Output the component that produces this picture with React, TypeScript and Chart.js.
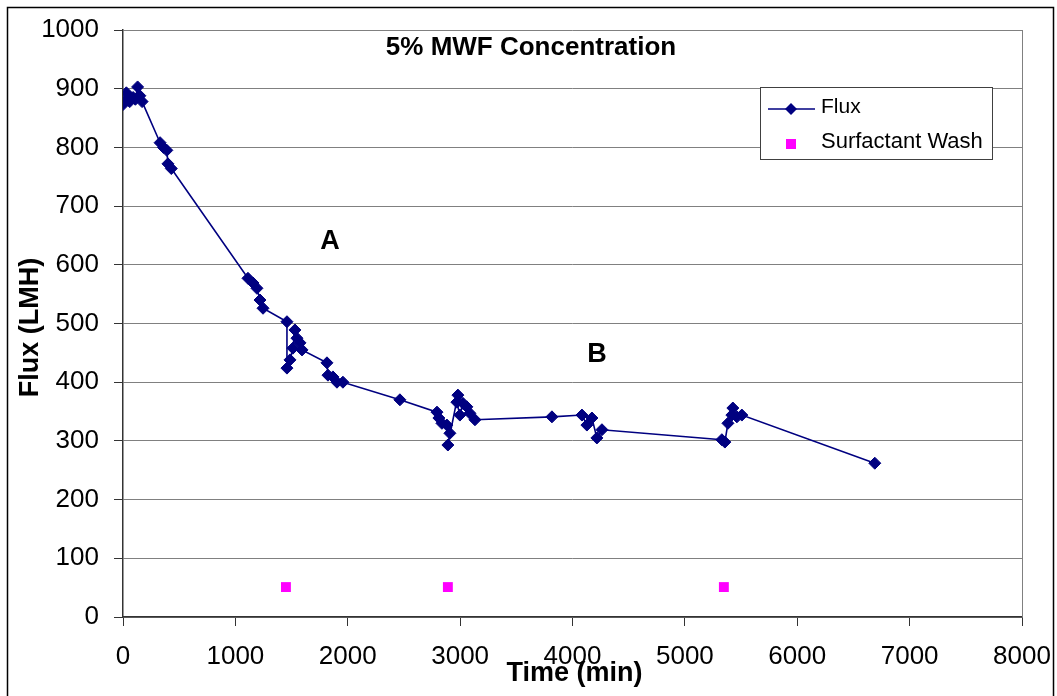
import React, { useEffect, useRef } from "react";
import { Chart, registerables } from "chart.js";

Chart.register(...registerables);

const chartTitle = "5% MWF Concentration";
const xAxisTitle = "Time (min)";
const yAxisTitle = "Flux (LMH)";
const fluxLabel = "Flux";
const washLabel = "Surfactant Wash";
const annotations = ["A", "B"];

const xMin = 0;
const xMax = 8000;
const xStep = 1000;
const yMin = 0;
const yMax = 1000;
const yStep = 100;

const fluxTime = [
  0, 20, 30, 60, 90, 110, 130, 150, 170,
  330, 360, 390, 400, 430,
  1112, 1157, 1192, 1219, 1246,
  1459, 1459, 1486, 1512, 1530, 1548, 1575, 1593,
  1815, 1824, 1868, 1904, 1957,
  2464,
  2794, 2811, 2838, 2882, 2909, 2891, 2980, 2971, 2998, 3025, 3060, 3087, 3132,
  3817, 4084, 4128, 4173, 4217, 4262,
  5329, 5356, 5383, 5418, 5427, 5463, 5507,
  6690,
];
const fluxValue = [
  873, 880, 893, 878, 885, 882, 903, 888, 878,
  808, 800, 795, 772, 764,
  577, 569, 560, 540, 526,
  503, 424, 438, 458, 489, 475, 467, 455,
  433, 412, 409, 400, 400,
  370,
  349, 339, 330, 327, 313, 293, 378, 366, 344, 364, 358, 347, 336,
  341, 344, 327, 339, 305, 319,
  302, 298, 330, 344, 356, 341, 344,
  262,
];

const washTime = [1450, 2891, 5347];
const washValue = [51, 51, 51];

const FONT = "'Liberation Sans', Arial, Helvetica, sans-serif";
const NAVY = "#000080";
const MAGENTA = "#ff00ff";

const decorPlugin = {
  id: "decor",
  beforeDraw(chart: any) {
    const { ctx, width, height } = chart;
    ctx.save();
    ctx.fillStyle = "#ffffff";
    ctx.fillRect(0, 0, width, height);
    ctx.strokeStyle = "#000000";
    ctx.lineWidth = 1.5;
    ctx.strokeRect(7.5, 7.5, width - 11, height + 10);
    ctx.restore();
  },
  beforeDatasetsDraw(chart: any) {
    const { ctx, chartArea } = chart;
    ctx.save();
    ctx.strokeStyle = "#808080";
    ctx.lineWidth = 1;
    ctx.beginPath();
    ctx.moveTo(chartArea.right + 0.5, chartArea.top);
    ctx.lineTo(chartArea.right + 0.5, chartArea.bottom);
    ctx.stroke();
    ctx.restore();
  },
  afterDraw(chart: any) {
    const { ctx } = chart;
    const xs = chart.scales.x;
    const ys = chart.scales.y;
    ctx.save();
    ctx.fillStyle = "#000000";
    // title
    ctx.font = `bold 26px ${FONT}`;
    ctx.textAlign = "center";
    ctx.textBaseline = "alphabetic";
    ctx.fillText(chartTitle, 531, 55);
    // annotations
    ctx.font = `bold 27px ${FONT}`;
    ctx.textBaseline = "middle";
    ctx.fillText(annotations[0], 330, 242);
    ctx.fillText(annotations[1], 597, 355);
    // x axis title
    ctx.font = `bold 27px ${FONT}`;
    ctx.textBaseline = "alphabetic";
    ctx.fillText(xAxisTitle, (xs.left + xs.right) / 2 + 2, 681);
    // y axis title
    ctx.save();
    ctx.translate(38, (ys.top + ys.bottom) / 2 + 4);
    ctx.rotate(-Math.PI / 2);
    ctx.textAlign = "center";
    ctx.textBaseline = "alphabetic";
    ctx.fillText(yAxisTitle, 0, 0);
    ctx.restore();
    // legend
    const lx = 760, ly = 87, lw = 232, lh = 72;
    ctx.fillStyle = "#ffffff";
    ctx.fillRect(lx, ly, lw, lh);
    ctx.strokeStyle = "#404040";
    ctx.lineWidth = 1;
    ctx.strokeRect(lx + 0.5, ly + 0.5, lw, lh);
    ctx.strokeStyle = NAVY;
    ctx.lineWidth = 1.5;
    ctx.beginPath();
    ctx.moveTo(768, 109);
    ctx.lineTo(815, 109);
    ctx.stroke();
    ctx.fillStyle = NAVY;
    ctx.beginPath();
    ctx.moveTo(791 - 6, 109);
    ctx.lineTo(791, 109 - 6);
    ctx.lineTo(791 + 6, 109);
    ctx.lineTo(791, 109 + 6);
    ctx.closePath();
    ctx.fill();
    ctx.fillStyle = MAGENTA;
    ctx.fillRect(786, 139, 10, 10);
    ctx.fillStyle = "#000000";
    ctx.font = `21px ${FONT}`;
    ctx.textAlign = "left";
    ctx.textBaseline = "alphabetic";
    ctx.fillText(fluxLabel, 821, 113);
    ctx.font = `22px ${FONT}`;
    ctx.fillText(washLabel, 821, 148);
    ctx.restore();
  },
};

export default function App() {
  const canvasRef = useRef<HTMLCanvasElement | null>(null);

  useEffect(() => {
    const canvas = canvasRef.current;
    if (!canvas) return;
    const fluxData = fluxTime.map((t, i) => ({ x: t, y: fluxValue[i] }));
    const washData = washTime.map((t, i) => ({ x: t, y: washValue[i] }));
    const chart = new Chart(canvas, {
      type: "scatter",
      data: {
        datasets: [
          {
            label: fluxLabel,
            data: fluxData,
            showLine: true,
            borderColor: NAVY,
            borderWidth: 1.6,
            backgroundColor: NAVY,
            pointStyle: "rectRot",
            pointRadius: 6,
            pointBorderWidth: 1,
            pointBorderColor: NAVY,
            pointBackgroundColor: NAVY,
            tension: 0,
          },
          {
            label: washLabel,
            data: washData,
            showLine: false,
            pointStyle: "rect",
            pointRadius: 7,
            pointBorderWidth: 0,
            pointBackgroundColor: MAGENTA,
            backgroundColor: MAGENTA,
            borderColor: MAGENTA,
          },
        ],
      },
      options: {
        responsive: false,
        animation: false,
        layout: { padding: { top: 30, right: 35, left: 0, bottom: 0 } },
        plugins: {
          legend: { display: false },
          title: { display: false },
          tooltip: { enabled: false },
        },
        scales: {
          x: {
            type: "linear",
            min: xMin,
            max: xMax,
            ticks: {
              stepSize: xStep,
              color: "#000000",
              font: { family: FONT, size: 26 },
              padding: 15,
              maxRotation: 0,
              callback: (v: any) => String(v),
            },
            grid: {
              display: true,
              drawOnChartArea: false,
              tickLength: 9,
              color: "#000000",
              tickColor: "#333333",
              lineWidth: 1,
            },
            border: { display: true, color: "#333333", width: 1.5 },
            afterFit: (scale: any) => {
              scale.height = 79;
              scale.paddingLeft = 0;
              scale.paddingRight = 0;
            },
          },
          y: {
            type: "linear",
            min: yMin,
            max: yMax,
            ticks: {
              stepSize: yStep,
              color: "#000000",
              font: { family: FONT, size: 26 },
              padding: 15,
              callback: (v: any) => String(v),
            },
            grid: {
              display: true,
              drawOnChartArea: true,
              tickLength: 9,
              color: "#808080",
              tickColor: "#333333",
              lineWidth: 1,
            },
            border: { display: true, color: "#333333", width: 1.5 },
            afterFit: (scale: any) => {
              scale.width = 123;
              scale.paddingTop = 0;
              scale.paddingBottom = 0;
            },
          },
        },
      },
      plugins: [decorPlugin],
    });
    return () => chart.destroy();
  }, []);

  return (
    <div style={{ position: "fixed", left: 0, top: 0, width: 1057, height: 696, background: "#fff" }}>
      <canvas ref={canvasRef} width={1057} height={696} style={{ display: "block" }} />
    </div>
  );
}
